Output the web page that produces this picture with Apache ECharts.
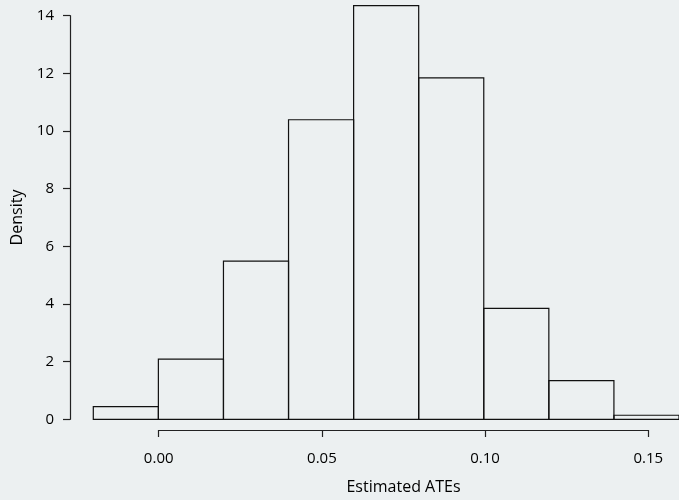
<!DOCTYPE html>
<html>
<head>
<meta charset="utf-8">
<script src="https://cdn.jsdelivr.net/npm/echarts@6/dist/echarts.min.js"></script>
<style>
html,body{margin:0;padding:0;background:#ECF0F1;}
#chart{width:679px;height:500px;}
</style>
</head>
<body>
<div id="chart"></div>
<script>
// Histogram bins (left edges, right edges) and densities
const binStarts = [-0.02, 0.00, 0.02, 0.04, 0.06, 0.08, 0.10, 0.12, 0.14];
const binEnds   = [ 0.00, 0.02, 0.04, 0.06, 0.08, 0.10, 0.12, 0.14, 0.16];
const densities = [0.44, 2.09, 5.49, 10.39, 14.35, 11.84, 3.85, 1.34, 0.14];
const xTicks = [0.00, 0.05, 0.10, 0.15];
const yTicks = [0, 2, 4, 6, 8, 10, 12, 14];

const FONT = 'Open Sans';
const TXT = '#000';

const histData = binStarts.map((s, i) => [s, binEnds[i], densities[i]]);

const chart = echarts.init(document.getElementById('chart'), null, {renderer: 'canvas'});
chart.setOption({
  backgroundColor: '#ECF0F1',
  animation: false,
  textStyle: {fontFamily: FONT},
  grid: [
    {left: 93.3, width: 587.7, top: 15.7, height: 403.6},
    {left: 158.7, width: 489.6, top: 15.7, height: 403.6}
  ],
  xAxis: [
    {gridIndex: 0, type: 'value', min: -0.02, max: 0.16, show: false,
     axisLine: {onZero: false}},
    {gridIndex: 1, type: 'value', min: 0, max: 0.15, interval: 0.05,
     position: 'bottom', offset: 21,
     name: 'Estimated ATEs', nameLocation: 'middle', nameGap: 49,
     nameTextStyle: {fontFamily: FONT, fontSize: 16, color: TXT},
     axisLine: {show: true, onZero: false, lineStyle: {color: '#222', width: 1.2}},
     axisTick: {show: true, inside: false, length: 7, lineStyle: {color: '#222', width: 1.2}},
     axisLabel: {margin: 21, fontFamily: FONT, fontSize: 15, color: TXT,
       formatter: v => v.toFixed(2)},
     splitLine: {show: false}}
  ],
  yAxis: [
    {gridIndex: 0, type: 'value', min: 0, max: 14, interval: 2,
     position: 'left', offset: 23.3,
     name: 'Density', nameLocation: 'middle', nameGap: 45,
     nameTextStyle: {fontFamily: FONT, fontSize: 16, color: TXT},
     axisLine: {show: true, onZero: false, lineStyle: {color: '#222', width: 1.2}},
     axisTick: {show: true, inside: false, length: 7, lineStyle: {color: '#222', width: 1.2}},
     axisLabel: {margin: 16, fontFamily: FONT, fontSize: 15, color: TXT},
     splitLine: {show: false}},
    {gridIndex: 1, type: 'value', min: 0, max: 14, show: false,
     axisLine: {onZero: false}}
  ],
  series: [{
    type: 'custom',
    xAxisIndex: 0, yAxisIndex: 0,
    clip: false,
    data: histData,
    renderItem: function (params, api) {
      const p0 = api.coord([api.value(0), 0]);
      const p1 = api.coord([api.value(1), api.value(2)]);
      return {
        type: 'rect',
        shape: {x: p0[0], y: p1[1], width: p1[0] - p0[0], height: p0[1] - p1[1]},
        style: {fill: 'none', stroke: '#111', lineWidth: 1.2}
      };
    }
  }]
});
</script>
</body>
</html>
